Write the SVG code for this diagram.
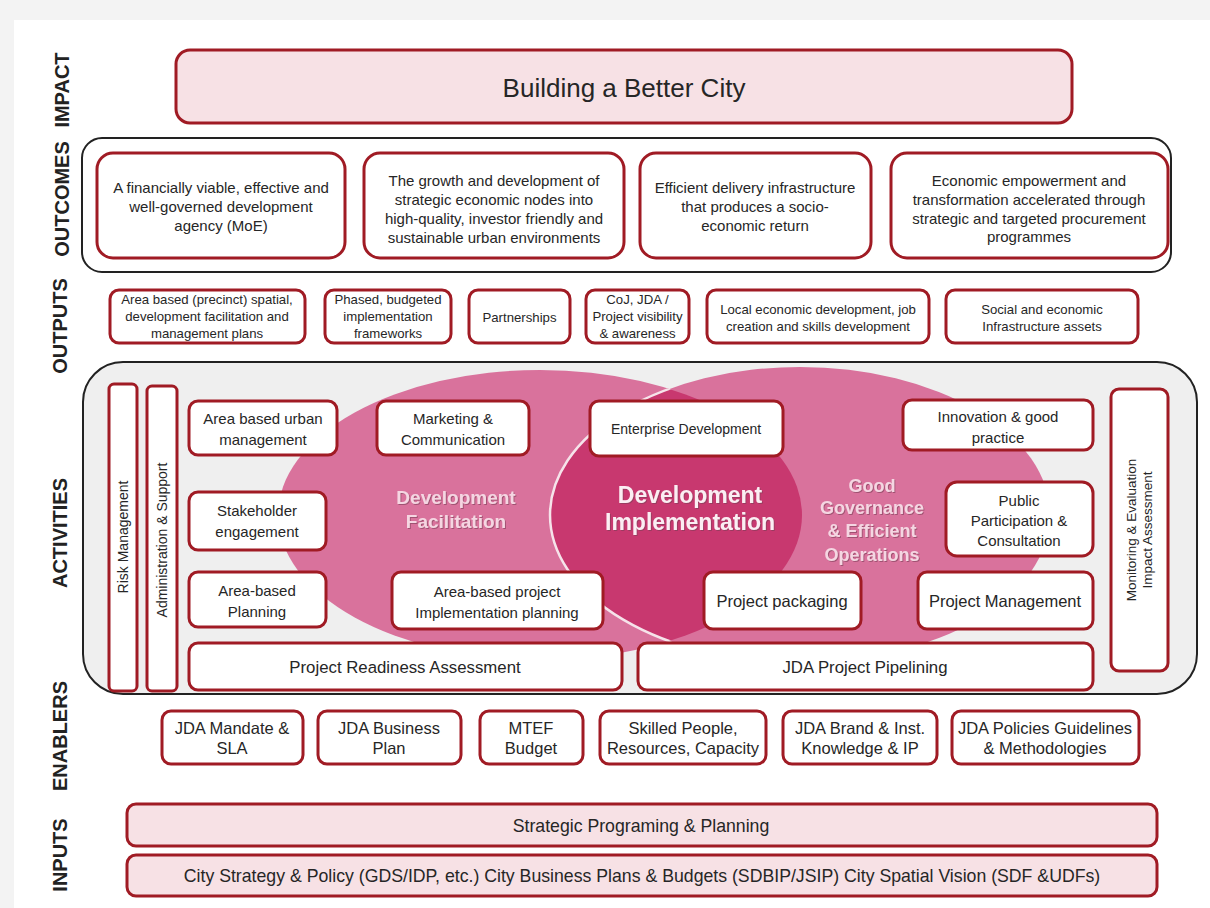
<svg xmlns="http://www.w3.org/2000/svg" width="1210" height="908" viewBox="0 0 1210 908">
<defs>
<style>
.box{fill:#ffffff;stroke:#a01b24;stroke-width:3}
.pbox{fill:#f7e1e5;stroke:#a01b24;stroke-width:3}
.t{font-family:"Liberation Sans",Arial,sans-serif;fill:#262626;text-anchor:middle}
.lab{font-family:"Liberation Sans",Arial,sans-serif;font-weight:bold;font-size:20px;fill:#222;text-anchor:middle}
.ell{font-family:"Liberation Sans",Arial,sans-serif;font-weight:bold;text-anchor:middle;filter:url(#sh)}
.s14{font-size:15px}.s12{font-size:13.2px}.s15{font-size:15px}.s16{font-size:16.8px}.s13{font-size:14px}.s165{font-size:16.5px}
</style>
<filter id="sh" x="-10%" y="-10%" width="120%" height="130%"><feDropShadow dx="1" dy="1" stdDeviation="0.6" flood-color="#7a3a55" flood-opacity="0.6"/></filter>
<clipPath id="clipL"><ellipse cx="540" cy="515" rx="262" ry="145"/></clipPath>
</defs>
<rect x="0" y="0" width="1210" height="908" fill="#f3f3f3"/>
<rect x="14" y="20" width="1196" height="888" fill="#ffffff"/>

<g id="row-labels">
<text class="lab" transform="rotate(-90 62 90)" x="62" y="97">IMPACT</text>
<text class="lab" transform="rotate(-90 62 199)" x="62" y="206">OUTCOMES</text>
<text class="lab" transform="rotate(-90 60 326)" x="60" y="333">OUTPUTS</text>
<text class="lab" transform="rotate(-90 60 533)" x="60" y="540">ACTIVITIES</text>
<text class="lab" transform="rotate(-90 60 736)" x="60" y="743">ENABLERS</text>
<text class="lab" transform="rotate(-90 60 855)" x="60" y="862">INPUTS</text>
</g>

<g id="impact">
<rect class="pbox" x="176" y="50" width="896" height="73" rx="14"/>
<text class="t" x="624" y="97" font-size="26">Building a Better City</text>
</g>

<g id="outcomes">
<rect x="82" y="138" width="1089" height="134" rx="20" fill="#ffffff" stroke="#222" stroke-width="2"/>
<g id="outcome-1">
<rect class="box" x="97" y="153" width="248" height="105" rx="16"/>
<text class="t s14" x="221" y="193">A financially viable, effective and</text>
<text class="t s14" x="221" y="212">well-governed development</text>
<text class="t s14" x="221" y="231">agency (MoE)</text>
</g>
<g id="outcome-2">
<rect class="box" x="364" y="153" width="260" height="105" rx="16"/>
<text class="t s14" x="494" y="186">The growth and development of</text>
<text class="t s14" x="494" y="205">strategic economic nodes into</text>
<text class="t s14" x="494" y="224">high-quality, investor friendly and</text>
<text class="t s14" x="494" y="243">sustainable urban environments</text>
</g>
<g id="outcome-3">
<rect class="box" x="640" y="153" width="231" height="105" rx="16"/>
<text class="t s14" x="755" y="193">Efficient delivery infrastructure</text>
<text class="t s14" x="755" y="212">that produces a socio-</text>
<text class="t s14" x="755" y="231">economic return</text>
</g>
<g id="outcome-4">
<rect class="box" x="891" y="153" width="277" height="105" rx="16"/>
<text class="t s14" x="1029" y="186">Economic empowerment and</text>
<text class="t s14" x="1029" y="205">transformation accelerated through</text>
<text class="t s14" x="1029" y="224">strategic and targeted procurement</text>
<text class="t s14" x="1029" y="242">programmes</text>
</g>
</g>

<g id="outputs">
<g id="output-1">
<rect class="box" x="110" y="290" width="195" height="53" rx="9"/>
<text class="t s12" x="207" y="303.5">Area based (precinct) spatial,</text>
<text class="t s12" x="207" y="320.5">development facilitation and</text>
<text class="t s12" x="207" y="337.5">management  plans</text>
</g>
<g id="output-2">
<rect class="box" x="325" y="290" width="126" height="53" rx="9"/>
<text class="t s12" x="388" y="303.5">Phased, budgeted</text>
<text class="t s12" x="388" y="320.5">implementation</text>
<text class="t s12" x="388" y="337.5">frameworks</text>
</g>
<g id="output-3">
<rect class="box" x="469" y="290" width="101" height="53" rx="9"/>
<text class="t s12" x="519.5" y="321.5">Partnerships</text>
</g>
<g id="output-4">
<rect class="box" x="586" y="290" width="103" height="53" rx="9"/>
<text class="t s12" x="637.5" y="303.5">CoJ, JDA /</text>
<text class="t s12" x="637.5" y="320.5">Project visibility</text>
<text class="t s12" x="637.5" y="337.5">&amp; awareness</text>
</g>
<g id="output-5">
<rect class="box" x="707" y="290" width="222" height="53" rx="9"/>
<text class="t s12" x="818" y="313.5">Local economic development, job</text>
<text class="t s12" x="818" y="330.5">creation and skills development</text>
</g>
<g id="output-6">
<rect class="box" x="946" y="290" width="192" height="53" rx="9"/>
<text class="t s12" x="1042" y="313.5">Social and economic</text>
<text class="t s12" x="1042" y="330.5">Infrastructure assets</text>
</g>
</g>

<g id="activities">
<rect x="83" y="362" width="1114" height="332" rx="40" fill="#efefef" stroke="#222" stroke-width="2"/>
<g id="venn">
<ellipse cx="540" cy="515" rx="262" ry="145" fill="#d9729c"/>
<ellipse cx="800" cy="515" rx="250" ry="148" fill="#d9729c"/>
<ellipse cx="800" cy="515" rx="250" ry="148" fill="#c8386f" clip-path="url(#clipL)"/>
<ellipse cx="800" cy="515" rx="250" ry="148" fill="none" stroke="#f6e3ea" stroke-width="2.5" clip-path="url(#clipL)"/>
<text class="ell" x="456" y="504" font-size="19" fill="#f5d6e2">Development</text>
<text class="ell" x="456" y="528" font-size="19" fill="#f5d6e2">Facilitation</text>
<text class="ell" x="690" y="503" font-size="23" fill="#fbeef3">Development</text>
<text class="ell" x="690" y="530" font-size="23" fill="#fbeef3">Implementation</text>
<text class="ell" x="872" y="492" font-size="18" fill="#f5d6e2">Good</text>
<text class="ell" x="872" y="514" font-size="18" fill="#f5d6e2">Governance</text>
<text class="ell" x="872" y="537" font-size="18" fill="#f5d6e2">&amp; Efficient</text>
<text class="ell" x="872" y="561" font-size="18" fill="#f5d6e2">Operations</text>
</g>
<g id="risk-management">
<rect class="box" x="109" y="384" width="28" height="307" rx="5"/>
<text class="t s13" transform="rotate(-90 123 537)" x="123" y="542">Risk Management</text>
</g>
<g id="admin-support">
<rect class="box" x="147" y="386" width="30" height="305" rx="5"/>
<text class="t s13" transform="rotate(-90 162 540)" x="162" y="545">Administration &amp; Support</text>
</g>
<g id="monitoring">
<rect class="box" x="1111" y="389" width="57" height="282" rx="8"/>
<text class="t" font-size="13.5" transform="rotate(-90 1140 530)" x="1140" y="526">Monitoring &amp; Evaluation</text>
<text class="t" font-size="13.5" transform="rotate(-90 1140 530)" x="1140" y="542">Impact Assessment</text>
</g>
<g id="area-urban-mgmt">
<rect class="box" x="189" y="401" width="148" height="54" rx="9"/>
<text class="t s15" x="263" y="423.5">Area based urban</text>
<text class="t s15" x="263" y="444.5">management</text>
</g>
<g id="marketing">
<rect class="box" x="377" y="401" width="152" height="54" rx="9"/>
<text class="t s15" x="453" y="423.5">Marketing &amp;</text>
<text class="t s15" x="453" y="444.5">Communication</text>
</g>
<g id="enterprise">
<rect class="box" x="590" y="401" width="193" height="55" rx="9"/>
<text class="t" font-size="14" x="686" y="434">Enterprise Development</text>
</g>
<g id="innovation">
<rect class="box" x="903" y="400" width="190" height="50" rx="9"/>
<text class="t s15" x="998" y="421.5">Innovation  &amp; good</text>
<text class="t s15" x="998" y="442.5">practice</text>
</g>
<g id="stakeholder">
<rect class="box" x="189" y="492" width="137" height="58" rx="9"/>
<text class="t s15" x="257" y="515.5">Stakeholder</text>
<text class="t s15" x="257" y="536.5">engagement</text>
</g>
<g id="public-participation">
<rect class="box" x="946" y="482" width="147" height="74" rx="11"/>
<text class="t s15" x="1019" y="505.5">Public</text>
<text class="t s15" x="1019" y="525.5">Participation &amp;</text>
<text class="t s15" x="1019" y="545.5">Consultation</text>
</g>
<g id="area-planning">
<rect class="box" x="189" y="572" width="137" height="55" rx="9"/>
<text class="t s15" x="257" y="595.5">Area-based</text>
<text class="t s15" x="257" y="616.5">Planning</text>
</g>
<g id="area-project-planning">
<rect class="box" x="392" y="572" width="211" height="57" rx="9"/>
<text class="t s15" x="497" y="596.5">Area-based  project</text>
<text class="t s15" x="497" y="617.5">Implementation  planning</text>
</g>
<g id="project-packaging">
<rect class="box" x="704" y="572" width="157" height="57" rx="9"/>
<text class="t s165" x="782" y="607">Project packaging</text>
</g>
<g id="project-management">
<rect class="box" x="918" y="572" width="175" height="57" rx="9"/>
<text class="t s165" x="1005" y="607">Project Management</text>
</g>
<g id="readiness">
<rect class="box" x="189" y="643" width="433" height="47" rx="9"/>
<text class="t s16" x="405" y="673">Project Readiness Assessment</text>
</g>
<g id="pipelining">
<rect class="box" x="638" y="643" width="455" height="47" rx="9"/>
<text class="t s16" x="865" y="673">JDA Project Pipelining</text>
</g>
</g>

<g id="enablers">
<g id="enabler-1">
<rect class="box" x="162" y="711" width="141" height="53" rx="9"/>
<text class="t s165" x="232" y="734">JDA Mandate &amp;</text>
<text class="t s165" x="232" y="754">SLA</text>
</g>
<g id="enabler-2">
<rect class="box" x="318" y="711" width="143" height="53" rx="9"/>
<text class="t s165" x="389" y="734">JDA Business</text>
<text class="t s165" x="389" y="754">Plan</text>
</g>
<g id="enabler-3">
<rect class="box" x="480" y="711" width="103" height="53" rx="9"/>
<text class="t s165" x="531" y="734">MTEF</text>
<text class="t s165" x="531" y="754">Budget</text>
</g>
<g id="enabler-4">
<rect class="box" x="600" y="711" width="166" height="53" rx="9"/>
<text class="t s165" x="683" y="734">Skilled People,</text>
<text class="t s165" x="683" y="754">Resources, Capacity</text>
</g>
<g id="enabler-5">
<rect class="box" x="783" y="711" width="154" height="53" rx="9"/>
<text class="t s165" x="860" y="734">JDA Brand &amp; Inst.</text>
<text class="t s165" x="860" y="754">Knowledge  &amp; IP</text>
</g>
<g id="enabler-6">
<rect class="box" x="952" y="711" width="187" height="53" rx="9"/>
<text class="t s165" x="1045" y="734">JDA Policies Guidelines</text>
<text class="t s165" x="1045" y="754">&amp; Methodologies</text>
</g>
</g>

<g id="inputs">
<g id="input-1">
<rect class="pbox" x="127" y="804" width="1030" height="42" rx="9"/>
<text class="t" font-size="17.7" x="641" y="832">Strategic Programing &amp; Planning</text>
</g>
<g id="input-2">
<rect class="pbox" x="127" y="855" width="1030" height="41" rx="9"/>
<text class="t" font-size="17.7" x="642" y="882">City Strategy &amp; Policy (GDS/IDP, etc.) City Business Plans &amp; Budgets (SDBIP/JSIP)  City Spatial Vision  (SDF &amp;UDFs)</text>
</g>
</g>
<g id="connectors"/>
</svg>
